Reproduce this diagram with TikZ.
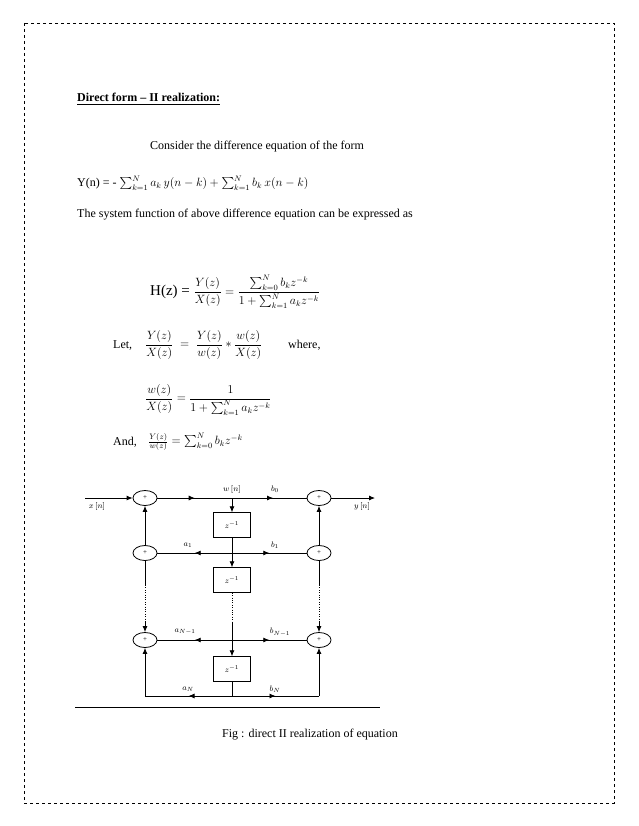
\documentclass[tikz,border=0pt]{standalone}
\usepackage{fontspec}
\usepackage{amsmath}
\setmainfont{Liberation Serif}
\usetikzlibrary{decorations.markings,arrows.meta,shapes.geometric}
\begin{document}
\begin{tikzpicture}[x=1pt,y=-1pt,
 txt/.style={anchor=west,inner sep=0pt,font=\fontsize{12}{14}\selectfont},
 add/.style={draw,ellipse,minimum width=24pt,minimum height=15pt,inner sep=0pt,font=\scriptsize,thick},
 dly/.style={draw,minimum width=37pt,minimum height=25pt,inner sep=0pt,font=\footnotesize},
 lab/.style={font=\footnotesize,inner sep=1pt},
 ln/.style={thick},
 mid/.style={thick,postaction={decorate},decoration={markings,mark=at position #1 with {\arrow{Latex[length=6pt,width=5pt]}}}},
 mid/.default=0.5,
 arr/.style={thick,-{Latex[length=6pt,width=5pt]}}]
\useasboundingbox (0,0) rectangle (638,826);
\draw[dashed,thin] (24,23) rectangle (614,803);
\node[txt,font=\fontsize{12}{14}\selectfont\bfseries] (title) at (77,99) {\underline{Direct form -- II realization:}};
\node[txt] (t1) at (150,147) {Consider the difference equation of the form};
\node[txt] (t2) at (77,183) {Y(n) = - $\sum_{k=1}^{N} a_k\, y(n-k) + \sum_{k=1}^{N} b_k\, x(n-k)$};
\node[txt] (t3) at (77,215) {The system function of above difference equation can be expressed as};
\node[txt,font=\fontsize{15}{17}\selectfont] (t4) at (150,292) {H(z) = {\fontsize{12}{14}\selectfont$\dfrac{Y(z)}{X(z)} = \dfrac{\sum_{k=0}^{N} b_k z^{-k}}{1+\sum_{k=1}^{N} a_k z^{-k}}$}};
\node[txt] (let) at (113,345) {Let,};
\node[txt] (e1) at (145,345) {$\dfrac{Y(z)}{X(z)} \;=\; \dfrac{Y(z)}{w(z)} * \dfrac{w(z)}{X(z)}$};
\node[txt] (wh) at (288,345) {where,};
\node[txt] (e2) at (145,400) {$\dfrac{w(z)}{X(z)} = \dfrac{1}{1+\sum_{k=1}^{N} a_k z^{-k}}$};
\node[txt] (and) at (113,442) {And,};
\node[txt] (e3) at (148,442) {$\frac{Y(z)}{w(z)} = \sum_{k=0}^{N} b_k z^{-k}$};
% diagram
\node[add] (l0) at (145,498) {+};
\node[add] (l1) at (145,553) {+};
\node[add] (l2) at (145,640) {+};
\node[add] (r0) at (319,498) {+};
\node[add] (r1) at (319,553) {+};
\node[add] (r2) at (319,640) {+};
\node[dly] (d1) at (232,525) {$z^{-1}$};
\node[dly] (d2) at (232,580) {$z^{-1}$};
\node[dly] (d3) at (232,669) {$z^{-1}$};
\coordinate (in) at (85,498);
\coordinate (out) at (375,498);
\coordinate (w0) at (232,498);
\coordinate (w1) at (232,553);
\coordinate (w2) at (232,640);
\coordinate (w3) at (232,696);
\coordinate (bl) at (145,696);
\coordinate (br) at (319,696);
\draw[arr] (in) -- (l0);
\draw[mid] (l0) -- (w0);
\draw[mid=0.55] (w0) -- (r0);
\draw[arr] (r0) -- (out);
\draw[arr] (w0) -- (d1);
\draw[arr] (d1) -- (d2);
\draw[mid] (w1) -- (l1);
\draw[mid] (w1) -- (r1);
\draw[mid] (w2) -- (l2);
\draw[mid] (w2) -- (r2);
\draw[arr] (l1) -- (l0);
\draw[arr] (r1) -- (r0);
\draw[thin,dotted] (d2) -- (232,622);
\draw[arr] (232,622) -- (d3);
\draw[thin,dotted] (145,585) -- (145,622);
\draw[arr] (145,622) -- (l2);
\draw[ln] (l1) -- (145,585);
\draw[thin,dotted] (319,585) -- (319,622);
\draw[arr] (319,622) -- (r2);
\draw[ln] (r1) -- (319,585);
\draw[ln] (d3) -- (w3);
\draw[mid] (w3) -- (bl);
\draw[mid] (w3) -- (br);
\draw[arr] (bl) -- (l2);
\draw[arr] (br) -- (r2);
\node[lab] (xn) at (97,506) {$x\,[n]$};
\node[lab] (yn) at (362,506) {$y\,[n]$};
\node[lab] (wn) at (232,489) {$w\,[n]$};
\node[lab] (b0) at (275,489) {$b_0$};
\node[lab] (a1) at (188,545) {$a_1$};
\node[lab] (b1) at (275,545) {$b_1$};
\node[lab] (aN1) at (185,632) {$a_{N-1}$};
\node[lab] (bN1) at (280,632) {$b_{N-1}$};
\node[lab] (aN) at (188,689) {$a_N$};
\node[lab] (bN) at (275,689) {$b_N$};
\draw[thin] (75,707) -- (380,707);
\node[txt,anchor=center] (cap) at (310,735) {Fig : direct II realization of equation};
\end{tikzpicture}
\end{document}
